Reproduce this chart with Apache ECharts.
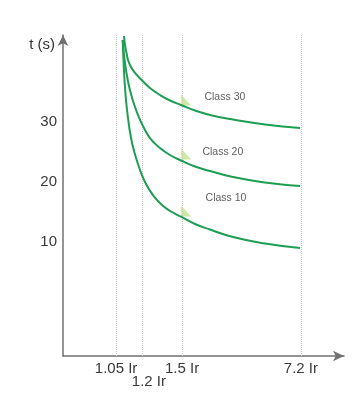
<!DOCTYPE html>
<html><head><meta charset="utf-8">
<script src="https://cdn.jsdelivr.net/npm/echarts@6/dist/echarts.min.js"></script>
<style>html,body{margin:0;padding:0;background:#fff}#c{width:360px;height:411px}</style>
</head><body><div id="c"></div>
<script>
// schematic x positions (0..~98 along the axis) and their tick labels
const xTickPos = [18.5, 27.5, 41.5, 82.9];
const xTickLabels = ['1.05 Ir', '1.2 Ir', '1.5 Ir', '7.2 Ir'];
const xTickRow = [0, 1, 0, 0]; // 1 = label on the lower row
const yTickVals = [10, 20, 30];

// curves: x = schematic position, y = t (s)
const class30X = [21.25, 21.60, 22.13, 22.65, 23.69, 25.09, 27.42, 30.31, 33.80, 37.28, 41.11, 45.99, 51.22, 59.23, 70.38, 82.58];
const class30Y = [44.33, 42.83, 41.50, 40.33, 39.17, 38.17, 37.00, 35.67, 34.50, 33.58, 32.83, 31.92, 31.17, 30.42, 29.58, 29.00];
const class20X = [20.80, 21.25, 21.95, 22.99, 24.39, 26.13, 27.87, 30.31, 33.80, 37.28, 41.11, 45.99, 51.22, 59.23, 70.38, 82.58];
const class20Y = [43.67, 41.17, 38.67, 36.00, 33.50, 31.17, 29.33, 27.33, 25.67, 24.50, 23.58, 22.58, 21.83, 20.83, 19.92, 19.33];
const class10X = [20.80, 21.08, 21.43, 21.95, 22.65, 23.52, 24.74, 26.83, 28.92, 31.36, 34.49, 37.98, 41.29, 45.99, 51.22, 59.23, 70.38, 82.58];
const class10Y = [43.67, 40.33, 37.00, 33.67, 30.67, 27.83, 25.17, 22.00, 19.67, 17.83, 16.17, 15.00, 14.17, 13.00, 12.08, 10.83, 9.75, 9.00];

const classNames = ['Class 30', 'Class 20', 'Class 10'];
const classLabelX = [56.4, 55.7, 56.8];
const classLabelY = [34.2, 25.0, 17.3];
const markerX = [42.9, 42.9, 42.9];
const markerY = [33.67, 24.67, 15.17];

const zip = (a, b) => a.map((v, i) => [v, b[i]]);
const lineColor = '#1d9e53';
const font = 'Liberation Sans, Arial, sans-serif';
const curve = (name, xs, ys) => ({
  type: 'line', name, data: zip(xs, ys), smooth: 0.5, showSymbol: false, clip: false,
  lineStyle: { color: lineColor, width: 2 },
  silent: true, z: 5
});
const rowValues = r => xTickPos.filter((v, i) => xTickRow[i] === r);
const labelFor = v => { const i = xTickPos.indexOf(v); return i >= 0 ? xTickLabels[i] : ''; };
const axisLineStyle = { color: '#707070', width: 1.5 };

const chart = echarts.init(document.getElementById('c'));
chart.setOption({
  animation: false,
  grid: { left: 63, right: 16, top: 35, bottom: 55, containLabel: false },
  xAxis: [{
    type: 'value', min: 0, max: 97.9,
    axisLine: { onZero: false, symbol: ['none', 'arrow'], symbolSize: [8, 11], lineStyle: axisLineStyle },
    axisTick: { show: false }, splitLine: { show: false },
    axisLabel: { customValues: rowValues(0), margin: 5, fontSize: 15, color: '#3a3a3a', fontFamily: font, formatter: labelFor }
  }, {
    type: 'value', min: 0, max: 97.9, position: 'bottom',
    axisLine: { show: false }, axisTick: { show: false }, splitLine: { show: false },
    axisLabel: { customValues: rowValues(1), margin: 18, padding: [0, 0, 0, 14], fontSize: 15, color: '#3a3a3a', fontFamily: font, formatter: labelFor }
  }],
  yAxis: {
    type: 'value', min: -9, max: 44.5,
    name: 't (s)', nameLocation: 'end', nameGap: -10,
    nameTextStyle: { align: 'right', verticalAlign: 'middle', padding: [0, 8, 0, 0], fontSize: 15, color: '#333', fontFamily: font },
    axisLine: { onZero: false, symbol: ['none', 'arrow'], symbolSize: [8, 11], lineStyle: axisLineStyle },
    axisTick: { show: false }, splitLine: { show: false },
    axisLabel: { customValues: yTickVals, margin: 6, fontSize: 15, color: '#3a3a3a', fontFamily: font }
  },
  series: [
    {
      type: 'line', data: [], silent: true,
      markLine: {
        silent: true, symbol: 'none', label: { show: false },
        lineStyle: { color: '#c8c8c8', type: 'dotted', width: 1 },
        data: xTickPos.map(x => [{ coord: [x, -9] }, { coord: [x, 44.5] }])
      }
    },
    curve('Class 30', class30X, class30Y),
    curve('Class 20', class20X, class20Y),
    curve('Class 10', class10X, class10Y),
    {
      type: 'scatter', silent: true, z: 4,
      symbol: 'path://M0,0 L0,10 L10,10 Z', symbolSize: [10, 11],
      itemStyle: { color: '#c3e48e' },
      data: zip(markerX, markerY)
    },
    {
      type: 'scatter', silent: true, symbolSize: 0,
      data: classNames.map((n, i) => ({ name: n, value: [classLabelX[i], classLabelY[i]] })),
      label: { show: true, position: 'inside', formatter: p => p.name, fontSize: 10.5, color: '#333', fontFamily: font }
    }
  ]
});
</script></body></html>
